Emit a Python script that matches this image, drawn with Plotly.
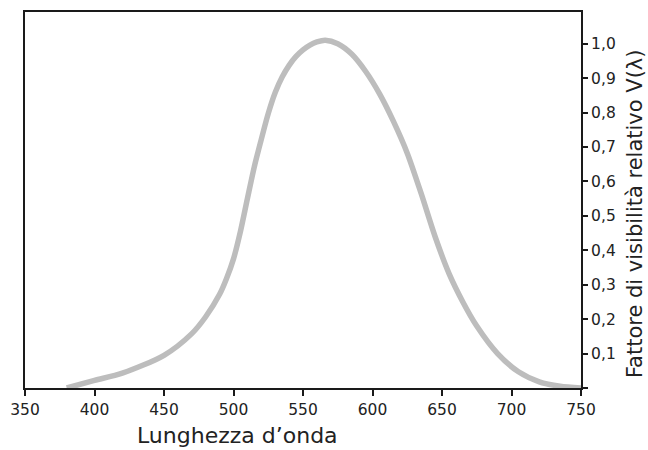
import plotly.graph_objects as go

# Wavelength (nm) and relative visibility V(lambda)
wavelength = [380, 400, 420, 450, 470, 480, 490, 495, 500, 505, 510, 515, 520, 525,
              530, 535, 540, 545, 550, 555, 560, 566, 575, 585, 595, 605, 615, 625,
              635, 645, 655, 665, 675, 690, 705, 720, 735, 750]
visibility = [0.0, 0.022, 0.043, 0.095, 0.158, 0.207, 0.272, 0.318, 0.375, 0.455,
              0.55, 0.643, 0.722, 0.797, 0.858, 0.903, 0.937, 0.963, 0.982, 0.996,
              1.005, 1.01, 1.0, 0.97, 0.92, 0.855, 0.775, 0.682, 0.565, 0.44, 0.333,
              0.25, 0.18, 0.1, 0.047, 0.018, 0.005, 0.0]

x_tick_vals = [350, 400, 450, 500, 550, 600, 650, 700, 750]
x_tick_text = ["350", "400", "450", "500", "550", "600", "650", "700", "750"]
y_tick_vals = [0, 0.1, 0.2, 0.3, 0.4, 0.5, 0.6, 0.7, 0.8, 0.9, 1.0]
y_tick_text = ["", "0,1", "0,2", "0,3", "0,4", "0,5", "0,6", "0,7", "0,8", "0,9", "1,0"]

x_title = "Lunghezza d\u2019onda"
y_title = "Fattore di visibilità relativo V(λ)"

FONT = "'DejaVu Sans', 'Open Sans', sans-serif"
TEXT_COLOR = "#222222"
AXIS_COLOR = "#1a1a1a"

fig = go.Figure()
fig.add_trace(go.Scatter(
    x=wavelength, y=visibility, mode="lines",
    line=dict(color="#bdbdbd", width=5.5, shape="spline", smoothing=0.8),
    hoverinfo="skip", showlegend=False,
))

fig.update_layout(
    width=648, height=450, autosize=False,
    margin=dict(l=23, r=67, t=10, b=62, pad=0),
    paper_bgcolor="white", plot_bgcolor="white",
    font=dict(family=FONT, color=TEXT_COLOR, size=15),
    xaxis=dict(
        range=[350, 750], showgrid=False, zeroline=False,
        showline=True, linecolor=AXIS_COLOR, linewidth=2, mirror=True,
        ticks="outside", ticklen=6, tickwidth=1.5, tickcolor=AXIS_COLOR,
        tickvals=x_tick_vals, ticktext=x_tick_text,
        tickfont=dict(size=15.5, family=FONT, color=TEXT_COLOR),
    ),
    yaxis=dict(
        range=[0, 1.092], side="right", showgrid=False, zeroline=False,
        showline=True, linecolor=AXIS_COLOR, linewidth=2, mirror=True,
        ticks="outside", ticklen=5, tickwidth=1.5, tickcolor=AXIS_COLOR,
        tickvals=y_tick_vals, ticktext=y_tick_text,
        tickfont=dict(size=15.5, family=FONT, color=TEXT_COLOR),
    ),
    annotations=[
        dict(text=x_title, xref="paper", yref="paper", x=0.383, y=-0.126,
             xanchor="center", yanchor="middle", showarrow=False,
             font=dict(size=22, family=FONT, color=TEXT_COLOR)),
        dict(text=y_title, xref="paper", yref="paper", x=1.097, y=0.465,
             xanchor="center", yanchor="middle", textangle=-90, showarrow=False,
             font=dict(size=21, family=FONT, color=TEXT_COLOR)),
    ],
)

fig.write_html(
    "out.html",
    config={"displayModeBar": False},
    post_script="document.body.style.margin='0';document.body.style.overflow='hidden';",
)
